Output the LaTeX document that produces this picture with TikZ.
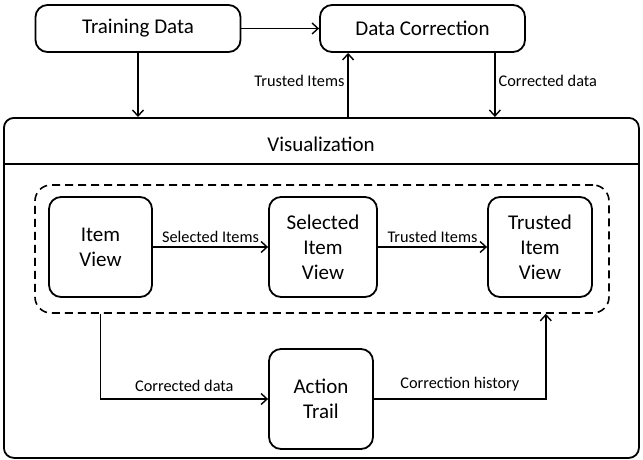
\documentclass[tikz,border=0pt]{standalone}
\usepackage{fontspec}
\setmainfont{Carlito}
\usetikzlibrary{calc,arrows.meta,positioning}

\begin{document}
\begin{tikzpicture}[
  x=1pt, y=-1pt,
  box/.style={draw, rounded corners=12pt, line width=1.8pt, align=center,
    font=\fontsize{21}{25}\selectfont, minimum height=100pt},
  topbox/.style={box, minimum height=47pt, minimum width=205pt},
  lbl/.style={font=\fontsize{16.3}{19}\selectfont, inner sep=3pt},
  conn/.style={draw, line width=1.4pt, -{Straight Barb[length=6pt, width=11pt]}}
]
\useasboundingbox (0,0) rectangle (643,459);

% top row
\node[topbox] (train) at (138,28.5) {Training Data};
\node[topbox] (corr) at (422.5,28.5) {Data Correction};

% visualization frame
\node[draw, line width=1.8pt, rounded corners=10pt, minimum width=635pt,
  minimum height=340pt, anchor=north west] (vis) at (3,117) {};
\draw[line width=1.4pt] ($(vis.north west)+(0,47)$) -- ($(vis.north east)+(0,47)$);
\node[font=\fontsize{21}{25}\selectfont] (vistitle) at (321,144) {Visualization};

% views
\node[draw, dashed, dash pattern=on 8pt off 5pt, line width=1.6pt, rounded corners=16pt,
  minimum width=574pt, minimum height=128pt] (grp) at (322,249) {};
\node[box, minimum width=103pt] (item) at (100.5,247) {Item\\View};
\node[box, minimum width=108pt] (sel) at (323,247) {Selected\\Item\\View};
\node[box, minimum width=104pt] (trust) at (540,247) {Trusted\\Item\\View};
\node[box, minimum width=104pt] (trail) at (321,399) {Action\\Trail};

\coordinate (up) at ($(corr.south west)+(29,0)$);
\coordinate (dn) at ($(corr.south east)+(-31,0)$);
\coordinate (hist) at ($(grp.south east)+(-64,0)$);

% connectors
\draw[conn] (train) -- (corr);
\draw[conn] (train.south) -- (train.south |- vis.north);
\draw[conn] (up |- vis.north) -- node[lbl, left, yshift=4pt] {Trusted Items} (up);
\draw[conn] (dn) -- node[lbl, right, yshift=4pt] {Corrected data} (dn |- vis.north);
\draw[conn] (item) -- node[lbl, above=1pt] {Selected Items} (sel);
\draw[conn] (sel) -- node[lbl, above=1pt] {Trusted Items} (trust);
\draw[conn] (item.south |- grp.south) |- node[lbl, above=4pt, pos=0.75] {Corrected data} (trail);
\draw[conn] (trail) -| node[lbl, above=4pt, pos=0.25] {Correction history} (hist);
\end{tikzpicture}
\end{document}
